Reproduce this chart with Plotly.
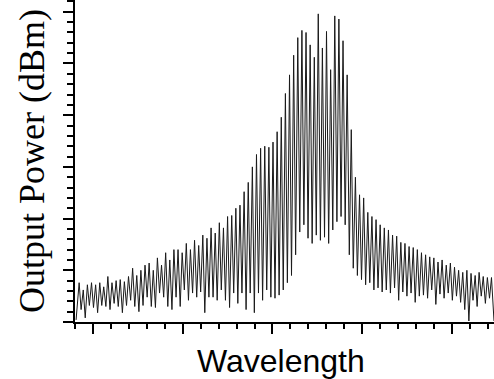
import plotly.graph_objects as go

# Fringe peak positions (nm) and powers (dBm)
peak_wl = [1540.23, 1540.46, 1540.69, 1540.92, 1541.15, 1541.38, 1541.60, 1541.83, 1542.06, 1542.29,
           1542.52, 1542.75, 1542.98, 1543.21, 1543.44, 1543.67, 1543.90, 1544.13, 1544.36, 1544.59,
           1544.82, 1545.05, 1545.28, 1545.51, 1545.74, 1545.97, 1546.20, 1546.43, 1546.66, 1546.89,
           1547.12, 1547.35, 1547.58, 1547.81, 1548.04, 1548.27, 1548.50, 1548.73, 1548.96, 1549.19,
           1549.42, 1549.65, 1549.88, 1550.11, 1550.34, 1550.57, 1550.80, 1551.03, 1551.26, 1551.49,
           1551.72, 1551.95, 1552.18, 1552.41, 1552.64, 1552.87, 1553.10, 1553.33, 1553.55, 1553.78,
           1554.01, 1554.24, 1554.47, 1554.70, 1554.93, 1555.16, 1555.39, 1555.62, 1555.85, 1556.08,
           1556.31, 1556.54, 1556.77, 1557.00, 1557.23, 1557.46, 1557.69, 1557.92, 1558.15, 1558.38,
           1558.61, 1558.84, 1559.07, 1559.30, 1559.53, 1559.76, 1559.99, 1560.22, 1560.45, 1560.68,
           1560.91, 1561.14, 1561.37, 1561.60, 1561.83, 1562.06, 1562.29, 1562.51, 1562.74, 1562.97,
           1563.20]
peak_dbm = [-56.2, -56.9, -56.4, -56.2, -56.4, -56.2, -56.6, -55.6, -56.2, -56.0,
            -55.9, -56.1, -55.6, -54.8, -55.5, -55.0, -54.5, -54.3, -55.0, -53.8,
            -54.5, -53.3, -54.0, -53.0, -53.0, -53.3, -52.4, -53.0, -52.1, -52.6,
            -51.6, -51.9, -50.9, -51.4, -50.4, -50.9, -49.8, -49.7, -49.0, -48.7,
            -47.4, -46.5, -45.0, -43.8, -43.2, -43.0, -43.1, -42.6, -41.6, -40.2,
            -37.9, -36.1, -34.2, -32.5, -31.8, -32.0, -33.2, -34.4, -30.2, -33.5,
            -31.9, -35.6, -30.4, -30.7, -32.8, -36.1, -41.4, -46.0, -47.7, -48.0,
            -49.4, -49.8, -50.1, -50.6, -50.9, -51.1, -51.6, -51.7, -52.3, -52.4,
            -52.7, -52.8, -53.0, -53.3, -53.5, -53.7, -53.8, -54.2, -54.0, -54.5,
            -54.3, -54.7, -55.0, -55.2, -55.0, -55.3, -55.5, -55.2, -55.6, -55.7,
            -55.7]

# Fringe trough positions (nm) and powers (dBm), including the two end points
trough_wl = [1540.06,
             1540.34, 1540.57, 1540.80, 1541.03, 1541.26, 1541.49, 1541.72, 1541.95, 1542.18, 1542.41,
             1542.64, 1542.87, 1543.10, 1543.33, 1543.56, 1543.79, 1544.02, 1544.25, 1544.48, 1544.71,
             1544.94, 1545.17, 1545.40, 1545.63, 1545.86, 1546.09, 1546.32, 1546.55, 1546.78, 1547.00,
             1547.23, 1547.46, 1547.69, 1547.92, 1548.15, 1548.38, 1548.61, 1548.84, 1549.07, 1549.30,
             1549.53, 1549.76, 1549.99, 1550.22, 1550.45, 1550.68, 1550.91, 1551.14, 1551.37, 1551.60,
             1551.83, 1552.06, 1552.29, 1552.52, 1552.75, 1552.98, 1553.21, 1553.44, 1553.67, 1553.90,
             1554.13, 1554.36, 1554.59, 1554.82, 1555.05, 1555.28, 1555.50, 1555.73, 1555.96, 1556.19,
             1556.42, 1556.65, 1556.88, 1557.11, 1557.34, 1557.57, 1557.80, 1558.03, 1558.26, 1558.49,
             1558.72, 1558.95, 1559.18, 1559.41, 1559.64, 1559.87, 1560.10, 1560.33, 1560.56, 1560.79,
             1561.02, 1561.25, 1561.48, 1561.71, 1561.94, 1562.17, 1562.40, 1562.63, 1562.86, 1563.09,
             1563.34]
trough_dbm = [-59.8,
              -58.8, -59.6, -58.4, -58.6, -59.1, -58.4, -58.5, -58.8, -58.2, -58.5,
              -59.1, -58.4, -57.9, -58.5, -59.0, -58.4, -57.6, -58.5, -58.6, -57.2,
              -57.6, -58.5, -58.8, -57.6, -58.5, -56.9, -57.9, -57.2, -57.6, -57.1,
              -59.1, -57.6, -57.6, -57.9, -56.9, -57.9, -58.6, -57.2, -58.2, -57.2,
              -58.8, -57.2, -59.1, -57.2, -57.9, -56.9, -57.6, -57.7, -57.4, -56.9,
              -56.2, -55.5, -53.5, -51.3, -50.6, -51.9, -52.4, -51.6, -52.1, -51.8,
              -52.4, -51.1, -50.3, -49.8, -50.6, -53.5, -54.8, -55.5, -55.9, -56.4,
              -56.2, -56.9, -56.7, -57.1, -56.9, -57.2, -56.7, -57.9, -57.1, -57.5,
              -57.2, -58.1, -57.5, -57.4, -57.7, -56.9, -58.3, -57.3, -57.7, -57.2,
              -57.9, -57.5, -58.1, -58.8, -59.9, -57.9, -58.5, -57.5, -58.2, -57.7,
              -59.9]

x_range = [1540.0, 1563.34]
y_range = [-60.0, -28.86]

pts = sorted(zip(peak_wl + trough_wl, peak_dbm + trough_dbm))
wl = [p[0] for p in pts]
pw = [p[1] for p in pts]

fig = go.Figure()
fig.add_trace(go.Scatter(x=wl, y=pw, mode="lines",
                         line=dict(color="#1a1a1a", width=1), showlegend=False,
                         hoverinfo="skip", cliponaxis=True))

fig.update_layout(
    width=494, height=379, autosize=False,
    margin=dict(l=75, r=0, t=0, b=57, pad=0),
    paper_bgcolor="white", plot_bgcolor="white",
    xaxis=dict(range=x_range, showgrid=False, zeroline=False, showticklabels=False,
               showline=True, linecolor="black", linewidth=1.5,
               ticks="outside", ticklen=10, tickwidth=1.5, tickcolor="black",
               tick0=1541, dtick=5,
               minor=dict(ticks="outside", ticklen=5, tickwidth=1.5, tickcolor="black",
                          tick0=1540, dtick=1, showgrid=False)),
    yaxis=dict(range=y_range, showgrid=False, zeroline=False, showticklabels=False,
               showline=True, linecolor="black", linewidth=1.5,
               ticks="outside", ticklen=10, tickwidth=1.5, tickcolor="black",
               tick0=-60, dtick=5,
               minor=dict(ticks="outside", ticklen=6, tickwidth=1.5, tickcolor="black",
                          tick0=-60, dtick=1, showgrid=False)),
    annotations=[
        dict(text="Output Power (dBm)", xref="paper", yref="paper", x=0, y=0.5,
             xanchor="center", yanchor="middle", xshift=-43, textangle=-90, showarrow=False,
             font=dict(family="Liberation Serif, Times New Roman, serif", size=36, color="black")),
        dict(text="Wavelength", xref="paper", yref="paper", x=0.5, y=0,
             xanchor="center", yanchor="middle", xshift=-4, yshift=-39, showarrow=False,
             font=dict(family="Liberation Sans, Arial, sans-serif", size=32, color="black")),
    ],
)

fig.write_html("out.html", config={"displayModeBar": False})
